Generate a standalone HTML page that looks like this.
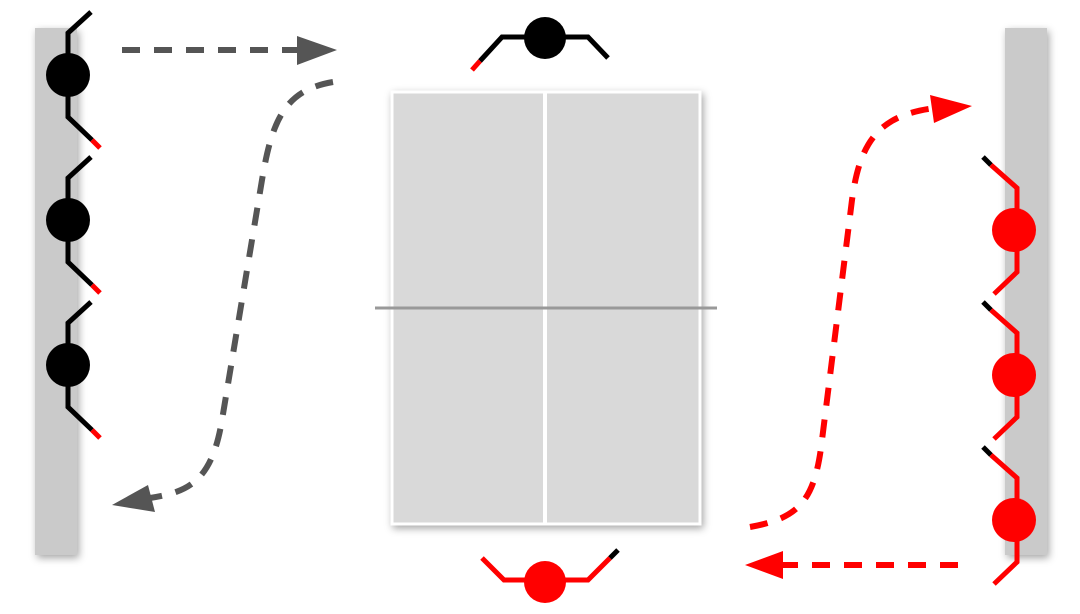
<!DOCTYPE html>
<html><head><style>html,body{margin:0;padding:0;background:#fff;width:1080px;height:614px;overflow:hidden}</style></head>
<body>
<svg width="1080" height="614" viewBox="0 0 1080 614" xmlns="http://www.w3.org/2000/svg">
<defs>
<filter id="sh" x="-30%" y="-10%" width="160%" height="120%"><feDropShadow dx="2" dy="3" stdDeviation="4" flood-color="#000" flood-opacity="0.35"/></filter>
</defs>
<rect x="35" y="28" width="42" height="527" fill="#cacaca" filter="url(#sh)"/>
<rect x="1005" y="28" width="42" height="527" fill="#cacaca" filter="url(#sh)"/>
<rect x="392" y="92" width="308" height="432" fill="#d9d9d9" stroke="#fff" stroke-width="3" filter="url(#sh)"/>
<line x1="545" y1="92" x2="545" y2="524" stroke="#fff" stroke-width="4"/>
<line x1="375" y1="308" x2="717" y2="308" stroke="#999" stroke-width="3"/>

<g stroke-width="5" fill="none" stroke-linecap="butt">
<g id="bp">
<polyline points="91,12 68,33 68,117 92,140" stroke="#000"/>
<line x1="92" y1="140" x2="100" y2="148" stroke="#f00"/>
<circle cx="68" cy="75" r="22" fill="#000" stroke="none"/>
</g>
<use href="#bp" y="145"/>
<use href="#bp" y="290"/>
<g id="rp">
<line x1="983" y1="157" x2="991" y2="165" stroke="#000"/>
<polyline points="991,165 1017,188 1017,272 994,294" stroke="#f00"/>
<circle cx="1014" cy="230" r="22" fill="#f00" stroke="none"/>
</g>
<use href="#rp" y="145"/>
<use href="#rp" y="290"/>
<polyline points="480,61 502,37 588,37 608,58" stroke="#000"/>
<line x1="472" y1="70" x2="480" y2="61" stroke="#f00"/>
<circle cx="545" cy="38" r="21" fill="#000" stroke="none"/>
<polyline points="482,558 504,580 588,580 610,558" stroke="#f00"/>
<line x1="610" y1="558" x2="618" y2="550" stroke="#000"/>
<circle cx="545" cy="582" r="21" fill="#f00" stroke="none"/>
</g>
<g stroke-width="6" fill="none">
<line x1="122" y1="50" x2="300" y2="50" stroke="#555" stroke-dasharray="18,14"/>
<path d="M333,82 C285,90 272,120 262,180 L222,420 C212,480 190,492 150,498" stroke="#555" stroke-dasharray="18,14"/>
<path d="M750,527 C800,518 815,500 822,440 L852,200 C860,140 880,115 935,108" stroke="#f00" stroke-dasharray="18,14"/>
<line x1="958" y1="565" x2="780" y2="565" stroke="#f00" stroke-dasharray="18,14"/>
</g>
<polygon points="297,36 337,50 297,65" fill="#555"/>
<polygon points="112,505 148,485 155,512" fill="#555"/>
<polygon points="930,95 972,106 934,123" fill="#f00"/>
<polygon points="745,565 783,551 783,579" fill="#f00"/>
</svg>
</body></html>
